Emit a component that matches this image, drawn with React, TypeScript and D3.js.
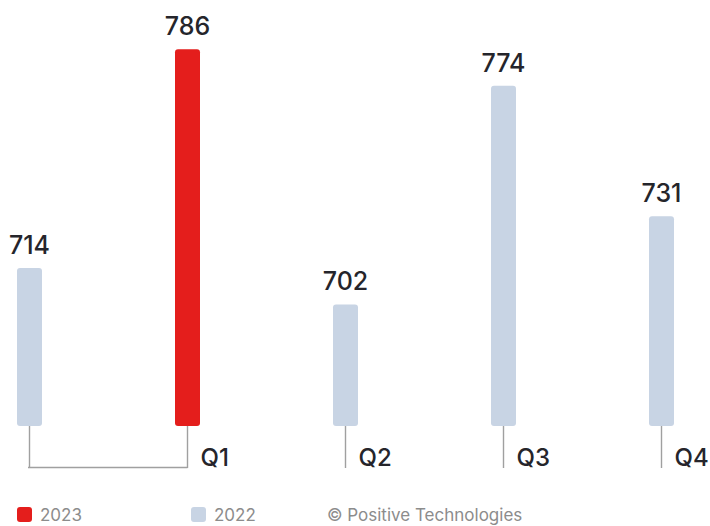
import React from "react";
import * as d3 from "d3";

const quarters = ["Q1", "Q2", "Q3", "Q4"];
const values2022 = [714, 702, 774, 731];
const values2023 = [786]; // only Q1 available
const legendLabels = ["2023", "2022"];
const copyright = "© Positive Technologies";

const RED = "#e41e1c";
const BLUE = "#c8d4e4";
const DARK = "#25252b";
const GRAY = "#8c8c8c";
const LINE = "#a0a0a0";
const FONT = "Inter, 'Noto Sans', sans-serif";

type Bar = { key: string; quarter: string; year: string; value: number };

export default function App() {
  const width = 710;
  const height = 526;
  const baseY = 426;
  const axisY = 468;

  const bars: Bar[] = [];
  quarters.forEach((q, i) => {
    bars.push({ key: q + "-2022", quarter: q, year: "2022", value: values2022[i] });
    if (values2023[i] !== undefined) {
      bars.push({ key: q + "-2023", quarter: q, year: "2023", value: values2023[i] });
    }
  });

  const x = d3.scalePoint<string>().domain(bars.map((b) => b.key)).range([29.5, 661.5]);
  const y = d3.scaleLinear().domain([662, 790]).range([baseY, 37]);
  const barW = 25;

  // per quarter, the anchor bar (last bar of the quarter) carries the label
  const quarterInfo = quarters.map((q) => {
    const qb = bars.filter((b) => b.quarter === q);
    const xs = qb.map((b) => x(b.key) as number);
    return { q, minX: d3.min(xs) as number, maxX: d3.max(xs) as number, count: qb.length };
  });

  return (
    <svg
      width={width}
      height={height}
      style={{ position: "absolute", left: 0, top: 0, background: "#fff" }}
      fontFamily={FONT}
    >
      {/* connector lines */}
      {bars.map((b) => (
        <line
          key={"l" + b.key}
          x1={x(b.key)}
          x2={x(b.key)}
          y1={baseY - 2}
          y2={axisY}
          stroke={LINE}
          strokeWidth={1.4}
        />
      ))}
      {quarterInfo
        .filter((d) => d.count > 1)
        .map((d) => (
          <line
            key={"h" + d.q}
            x1={d.minX - 1.5}
            x2={d.maxX}
            y1={axisY - 0.5}
            y2={axisY - 0.5}
            stroke={LINE}
            strokeWidth={1.4}
          />
        ))}
      {/* bars */}
      {bars.map((b) => (
        <rect
          key={b.key}
          x={(x(b.key) as number) - barW / 2}
          y={y(b.value)}
          width={barW}
          height={baseY - y(b.value)}
          rx={3}
          fill={b.year === "2023" ? RED : BLUE}
        />
      ))}
      {/* value labels */}
      {bars.map((b) => (
        <text
          key={"v" + b.key}
          x={x(b.key)}
          y={y(b.value) - 14}
          textAnchor="middle"
          fontSize={25}
          fontWeight={500}
          fill={DARK}
        >
          {b.value}
        </text>
      ))}
      {/* quarter labels */}
      {quarterInfo.map((d) => (
        <text
          key={"q" + d.q}
          x={d.maxX + 13}
          y={466}
          fontSize={24}
          fontWeight={500}
          fill={DARK}
        >
          {d.q}
        </text>
      ))}
      {/* legend */}
      {legendLabels.map((l, i) => (
        <g key={"lg" + l} transform={`translate(${17 + i * 174},507)`}>
          <rect width={15} height={15} rx={3} fill={l === "2023" ? RED : BLUE} />
          <text x={23} y={14} fontSize={17} fill={GRAY}>
            {l}
          </text>
        </g>
      ))}
      <text x={327} y={521} fontSize={17} fill={GRAY}>
        {copyright}
      </text>
    </svg>
  );
}
